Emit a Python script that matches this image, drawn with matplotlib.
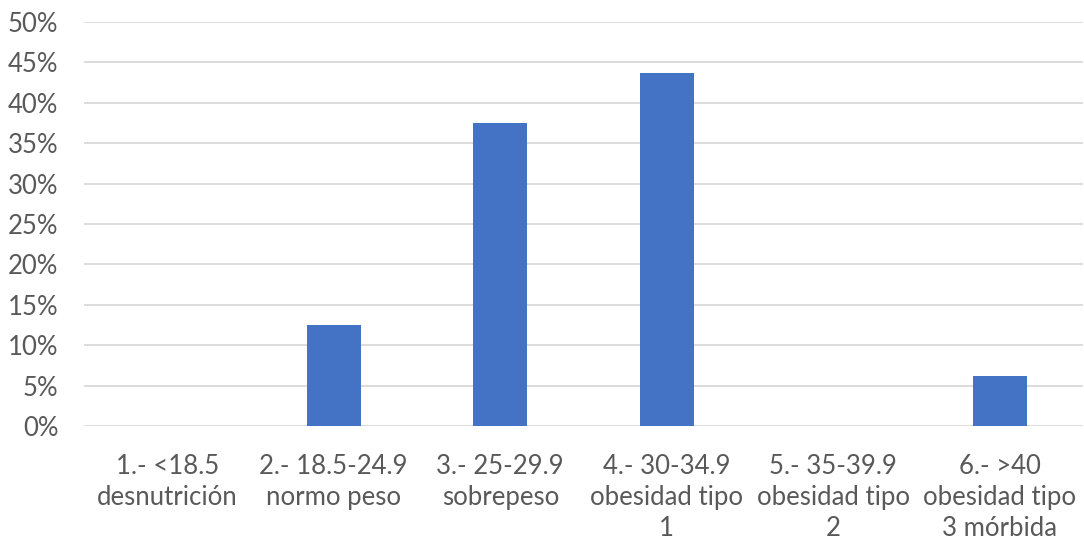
import matplotlib.pyplot as plt
from matplotlib.ticker import PercentFormatter

categories = [
    "1.- <18.5\ndesnutrición",
    "2.- 18.5-24.9\nnormo peso",
    "3.- 25-29.9\nsobrepeso",
    "4.- 30-34.9\nobesidad tipo\n1",
    "5.- 35-39.9\nobesidad tipo\n2",
    "6.- >40\nobesidad tipo\n3 mórbida",
]
percent = [0.0, 12.5, 37.5, 43.75, 0.0, 6.25]
y_ticks = [0, 5, 10, 15, 20, 25, 30, 35, 40, 45, 50]

plt.rcParams['font.family'] = ['Lato', 'DejaVu Sans']

fig = plt.figure(figsize=(10.84, 5.45), dpi=100)
ax = fig.add_axes([0.0775, 0.2183, 0.9215, 0.7413])

x = range(len(categories))
ax.bar(x, percent, width=0.324, color='#4472C4', zorder=3)

ax.set_xlim(-0.5, len(categories) - 0.5)
ax.set_ylim(0, 50)
ax.set_yticks(y_ticks)
ax.yaxis.set_major_formatter(PercentFormatter(decimals=0))
ax.set_xticks(list(x))
ax.set_xticklabels(categories, linespacing=1.3)

ax.grid(axis='y', color='#D9D9D9', linewidth=1.3, zorder=0)
for s in ax.spines.values():
    s.set_visible(False)
ax.tick_params(axis='both', length=0, labelsize=18.5, labelcolor='#595959')
ax.tick_params(axis='y', pad=18.5)
ax.tick_params(axis='x', pad=20.5)

fig.savefig('out.png', dpi=100)
